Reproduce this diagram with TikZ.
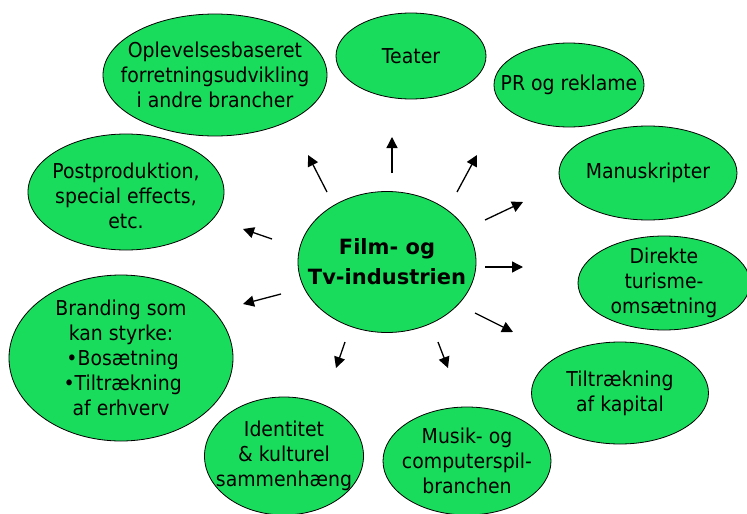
\documentclass[tikz,border=0pt]{standalone}
\usepackage{fontspec}
\setmainfont{DejaVu Sans}
\newfontfamily\bubfont[FakeStretch=0.92]{DejaVu Sans}
\usetikzlibrary{shapes.geometric,arrows.meta}
\definecolor{bubble}{RGB}{26,220,92}
\begin{document}
\begin{tikzpicture}[x=1pt,y=-1pt,
  bub/.style={ellipse, draw=black, line width=0.8pt, fill=bubble, inner sep=0pt},
  txt/.style={align=center, inner sep=0pt, font=\bubfont\fontsize{20.5}{25}\selectfont},
  arr/.style={-{Triangle[length=11pt,width=11pt]}, line width=1.3pt}]
\useasboundingbox (0,0) rectangle (747,514);
% bubbles
\node[bub, minimum width=224, minimum height=122,
  label={[txt]center:Oplevelsesbaseret\\forretningsudvikling\\i andre brancher}] (oplev) at (215,75) {};
\node[bub, minimum width=150, minimum height=86,
  label={[txt]center:Teater}] (teater) at (411,56) {};
\node[bub, minimum width=150, minimum height=84,
  label={[txt]center:PR og reklame}] (pr) at (569,85) {};
\node[bub, minimum width=178, minimum height=94,
  label={[txt]center:Manuskripter}] (manus) at (648,173) {};
\node[bub, minimum width=172, minimum height=94,
  label={[txt]center:Direkte\\turisme-\\omsætning}] (direkte) at (664,283) {};
\node[bub, minimum width=177, minimum height=102,
  label={[txt]center:Tiltrækning\\af kapital}] (kapital) at (620,393) {};
\node[bub, minimum width=168, minimum height=108,
  label={[txt]center:Musik- og\\computerspil-\\branchen}] (musik) at (467,461) {};
\node[bub, minimum width=159, minimum height=118,
  label={[txt]center:Identitet\\\&\ kulturel\\sammenhæng}] (identitet) at (284,456) {};
\node[bub, minimum width=224, minimum height=166,
  label={[txt]center:Branding som\\kan styrke:\\\,•Bosætning\\\,•Tiltrækning\\af erhverv}] (branding) at (121,358) {};
\node[bub, minimum width=196, minimum height=116,
  label={[txt, yshift=-4pt]center:Postproduktion,\\special effects,\\etc.}] (post) at (126,192) {};
\node[bub, minimum width=178, minimum height=141,
  label={[txt, font=\rmfamily\bfseries\fontsize{21}{30}\selectfont]center:Film- og\\Tv-industrien}] (film) at (387,262) {};
% arrow coordinates
\coordinate (s1) at (327,192); \coordinate (e1) at (308,155);
\coordinate (s2) at (392,173); \coordinate (e2) at (392,137);
\coordinate (s3) at (457,192); \coordinate (e3) at (477,155);
\coordinate (s4) at (485,220); \coordinate (e4) at (523,202);
\coordinate (s5) at (485,267); \coordinate (e5) at (523,267);
\coordinate (s6) at (475,313); \coordinate (e6) at (513,332);
\coordinate (s7) at (345,342); \coordinate (e7) at (336,368);
\coordinate (s8) at (438,342); \coordinate (e8) at (448,368);
\coordinate (s9) at (272,239); \coordinate (e9) at (243,229);
\coordinate (s10) at (281,294); \coordinate (e10) at (243,304);
\foreach \i in {1,...,10} {\draw[arr] (s\i) -- (e\i);}
\end{tikzpicture}
\end{document}
